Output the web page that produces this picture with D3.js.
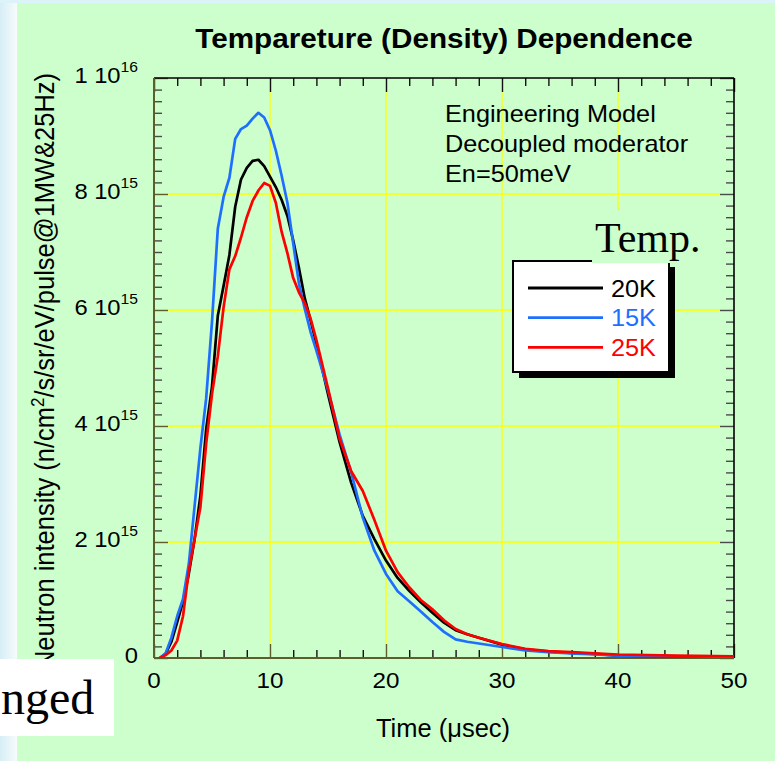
<!DOCTYPE html>
<html>
<head>
<meta charset="utf-8">
<script src="https://cdn.jsdelivr.net/npm/d3@7"></script>
<style>
  html, body { margin: 0; padding: 0; background: #ffffff; }
  svg { display: block; }
  text { font-family: "Liberation Sans", Arial, Helvetica, sans-serif; }
  text.serif { font-family: "Liberation Serif", "Times New Roman", Times, serif; }
</style>
</head>
<body>
<svg id="chart" width="775" height="761"></svg>
<script>
// Pulse shape of the decoupled moderator at three moderator temperatures.
// Time in microseconds, intensity in units of 1e15 n/cm^2/s/sr/eV/pulse.
const times = [0.5, 1, 1.5, 2, 2.5, 3, 3.5, 4, 4.5, 5, 5.5, 6, 6.5, 7, 7.5, 8, 8.5, 9, 9.5, 10,
               10.5, 11, 11.5, 12, 12.5, 13, 13.5, 14, 15, 16, 17, 18, 19, 20, 21, 22, 23, 24, 25,
               26, 27, 28, 30, 32, 34, 36, 38, 40, 45, 50];

const int20K = [0, 0.07, 0.28, 0.62, 0.97, 1.45, 2.05, 2.80, 3.95, 4.68, 5.90, 6.42, 6.95, 7.78, 8.25,
                8.45, 8.57, 8.59, 8.48, 8.30, 8.12, 7.90, 7.62, 7.20, 6.72, 6.20, 5.82, 5.42, 4.55,
                3.72, 3.02, 2.45, 2.05, 1.68, 1.38, 1.16, 0.96, 0.78, 0.61, 0.48, 0.41, 0.35, 0.23,
                0.15, 0.11, 0.09, 0.07, 0.04, 0.03, 0.02];

const int15K = [0, 0.08, 0.35, 0.72, 1.02, 1.62, 2.62, 3.62, 4.48, 5.80, 7.40, 7.95, 8.28, 8.95, 9.12,
                9.18, 9.30, 9.40, 9.32, 9.10, 8.75, 8.32, 7.85, 7.15, 6.45, 6.02, 5.62, 5.30, 4.62,
                3.85, 3.20, 2.42, 1.85, 1.45, 1.15, 0.98, 0.80, 0.62, 0.45, 0.32, 0.28, 0.25, 0.19,
                0.13, 0.10, 0.08, 0.06, 0.04, 0.03, 0.02];

const int25K = [0, 0.05, 0.13, 0.30, 0.72, 1.50, 2.05, 2.60, 3.70, 4.55, 5.20, 6.05, 6.70, 6.93, 7.25,
                7.60, 7.88, 8.06, 8.19, 8.14, 7.85, 7.35, 6.98, 6.55, 6.30, 6.12, 5.85, 5.48, 4.65,
                3.78, 3.22, 2.88, 2.38, 1.85, 1.48, 1.22, 1.00, 0.84, 0.65, 0.50, 0.41, 0.35, 0.24,
                0.16, 0.12, 0.10, 0.08, 0.06, 0.04, 0.03];

const UNIT = 1e15;
const seriesLabels = ["20K", "15K", "25K"];
const seriesValues = [int20K, int15K, int25K];
const seriesColors = ["#000000", "#1f6fff", "#ff0000"];

const xTickValues = [0, 10, 20, 30, 40, 50];
const yTickValues = [0, 2e15, 4e15, 6e15, 8e15, 1e16];
const noteLines = ["Engineering Model", "Decoupled moderator", "En=50meV"];

const titleText = "Tempareture (Density) Dependence";
const xLabelText = "Time (\u03bcsec)";

// ---------------------------------------------------------------------------
const svg = d3.select("#chart");
const W = 775, H = 761;
const plot = { left: 154, top: 78, width: 580, height: 580 };
const green = "#ccffcc";
const olive = "#5e5e2c";

// page backdrop
const defs = svg.append("defs");
const lg = defs.append("linearGradient").attr("id", "edge").attr("x1", 0).attr("x2", 1).attr("y1", 0).attr("y2", 0);
lg.append("stop").attr("offset", 0).attr("stop-color", "#d6eef6");
lg.append("stop").attr("offset", 1).attr("stop-color", "#f7fbfc");
svg.append("rect").attr("width", W).attr("height", H).attr("fill", "#f7fbfc");
svg.append("rect").attr("x", 0).attr("y", 0).attr("width", 17).attr("height", H).attr("fill", "url(#edge)");
svg.append("rect").attr("x", 0).attr("y", 0).attr("width", W).attr("height", 3).attr("fill", "#dcf3fa");
svg.append("rect").attr("x", 17).attr("y", 3).attr("width", W - 17).attr("height", H - 3).attr("fill", green);

// text helper: horizontal stretch about the anchor point
function stext(parent, x, y, str, size, anchor, sx, extra) {
  const t = parent.append("text")
    .attr("transform", `translate(${x},${y}) scale(${sx},1)`)
    .attr("font-size", size)
    .attr("text-anchor", anchor)
    .text(str);
  if (extra) extra(t);
  return t;
}

const x = d3.scaleLinear().domain([0, 50]).range([plot.left, plot.left + plot.width]);
const y = d3.scaleLinear().domain([0, 1e16]).range([plot.top + plot.height, plot.top]);

const g = svg.append("g");

// grid
g.append("g").selectAll("line").data(xTickValues.slice(1, -1)).join("line")
  .attr("x1", d => x(d)).attr("x2", d => x(d))
  .attr("y1", y(0)).attr("y2", y(1e16))
  .attr("stroke", "#ffff00").attr("stroke-width", 1.3);
g.append("g").selectAll("line").data(yTickValues.slice(1, -1)).join("line")
  .attr("y1", d => y(d)).attr("y2", d => y(d))
  .attr("x1", x(0)).attr("x2", x(50))
  .attr("stroke", "#ffff00").attr("stroke-width", 1.3);

// tick marks (inward) on all four sides
const xMinor = d3.range(0, 51, 2).filter(v => v % 10 !== 0);
const yMinor = d3.range(0, 50.5, 1).map(i => i * 2e14).filter(v => Math.round(v / 1e14) % 20 !== 0);

function ticks(axis, transform, color) {
  const a = g.append("g").attr("transform", transform).call(axis);
  a.select(".domain").remove();
  a.selectAll("line").attr("stroke", color).attr("stroke-width", 1.4);
  a.selectAll("text").remove();
  return a;
}
const bottomY = y(0), topY = y(1e16), leftX = x(0), rightX = x(50);
ticks(d3.axisBottom(x).tickValues(xMinor).tickSize(-8), `translate(0,${bottomY})`, "#111");
ticks(d3.axisBottom(x).tickValues(xTickValues).tickSize(-14), `translate(0,${bottomY})`, olive);
ticks(d3.axisTop(x).tickValues(xMinor).tickSize(-8), `translate(0,${topY})`, "#111");
ticks(d3.axisTop(x).tickValues(xTickValues).tickSize(-14), `translate(0,${topY})`, "#111");
ticks(d3.axisLeft(y).tickValues(yMinor).tickSize(-8), `translate(${leftX},0)`, "#4a4a4a");
ticks(d3.axisLeft(y).tickValues(yTickValues).tickSize(-14), `translate(${leftX},0)`, olive);
ticks(d3.axisRight(y).tickValues(yMinor).tickSize(-8), `translate(${rightX},0)`, "#4a4a4a");
ticks(d3.axisRight(y).tickValues(yTickValues).tickSize(-14), `translate(${rightX},0)`, "#4a4a4a");

// frame
g.append("line").attr("x1", leftX).attr("x2", rightX).attr("y1", topY).attr("y2", topY).attr("stroke", "#000").attr("stroke-width", 1.6);
g.append("line").attr("x1", rightX).attr("x2", rightX).attr("y1", topY).attr("y2", bottomY).attr("stroke", "#000").attr("stroke-width", 1.6);
g.append("line").attr("x1", leftX).attr("x2", leftX).attr("y1", topY).attr("y2", bottomY).attr("stroke", olive).attr("stroke-width", 2);
g.append("line").attr("x1", leftX).attr("x2", rightX).attr("y1", bottomY).attr("y2", bottomY).attr("stroke", olive).attr("stroke-width", 2);

// x tick labels
xTickValues.forEach(v => {
  stext(svg, x(v), bottomY + 29.5, String(v), 22, "middle", 1.1);
});

// y tick labels as "m 10^e"
yTickValues.forEach(v => {
  const t = svg.append("text")
    .attr("transform", `translate(${leftX - 16},${y(v) + 4.5}) scale(1.08,1)`)
    .attr("font-size", 22).attr("text-anchor", "end");
  if (v === 0) { t.text("0"); return; }
  const e = Math.floor(Math.log10(v) + 1e-9);
  const m = Math.round(v / Math.pow(10, e));
  t.append("tspan").text(`${m} 10`);
  t.append("tspan").attr("dy", -11).attr("font-size", 14.5).text(String(e));
});

// series
const line = d3.line()
  .x((d, i) => x(times[i]))
  .y(d => y(d * UNIT));
const clip = defs.append("clipPath").attr("id", "plotclip");
clip.append("rect").attr("x", plot.left).attr("y", plot.top).attr("width", plot.width).attr("height", plot.height);
const lines = svg.append("g").attr("clip-path", "url(#plotclip)");
seriesValues.forEach((vals, k) => {
  lines.append("path")
    .datum(vals)
    .attr("d", line)
    .attr("fill", "none")
    .attr("stroke", seriesColors[k])
    .attr("stroke-width", 2.7)
    .attr("stroke-linejoin", "round")
    .attr("stroke-linecap", "round");
});

// title
stext(svg, 444, 48, titleText, 28, "middle", 1.06, t => t.attr("font-weight", "bold"));

// notes
noteLines.forEach((s, i) => {
  stext(svg, 445, 121.5 + i * 30, s, 23, "start", 1.1);
});

// legend
const lgX = 513, lgY = 261, lgW = 156, lgH = 111;
svg.append("rect").attr("x", lgX + 6).attr("y", lgY + 6).attr("width", lgW).attr("height", lgH).attr("fill", "#000");
svg.append("rect").attr("x", lgX).attr("y", lgY).attr("width", lgW).attr("height", lgH)
  .attr("fill", "#fff").attr("stroke", "#000").attr("stroke-width", 2);
seriesLabels.forEach((s, k) => {
  const cy = lgY + 27 + k * 29.7;
  svg.append("line").attr("x1", lgX + 15).attr("x2", lgX + 90).attr("y1", cy).attr("y2", cy)
    .attr("stroke", seriesColors[k]).attr("stroke-width", 2.8);
  stext(svg, lgX + 98, cy + 8.5, s, 23, "start", 1.1, t => t.attr("fill", seriesColors[k]));
});

// legend heading on its own patch of background
svg.append("rect").attr("x", 592).attr("y", 210).attr("width", 120).attr("height", 53).attr("fill", green);
svg.append("text").attr("class", "serif").attr("x", 595).attr("y", 252)
  .attr("font-size", 42).text("Temp.");

// axis titles
stext(svg, 443, 737, xLabelText, 25, "middle", 1.02);

const yl = svg.append("text")
  .attr("transform", "translate(54,371) scale(1.07,1) rotate(-90)")
  .attr("font-size", 25.5).attr("text-anchor", "middle");
yl.append("tspan").text("Neutron intensity (n/cm");
yl.append("tspan").attr("dy", -9).attr("font-size", 17).text("2");
yl.append("tspan").attr("dy", 9).text("/s/sr/eV/pulse@1MW&25Hz)");

// caption fragment in the lower-left corner
svg.append("rect").attr("x", 0).attr("y", 659).attr("width", 114).attr("height", 77).attr("fill", "#ffffff");
svg.append("text").attr("class", "serif").attr("x", 1).attr("y", 714)
  .attr("font-size", 48).attr("text-anchor", "start").text("nged");
</script>
</body>
</html>
